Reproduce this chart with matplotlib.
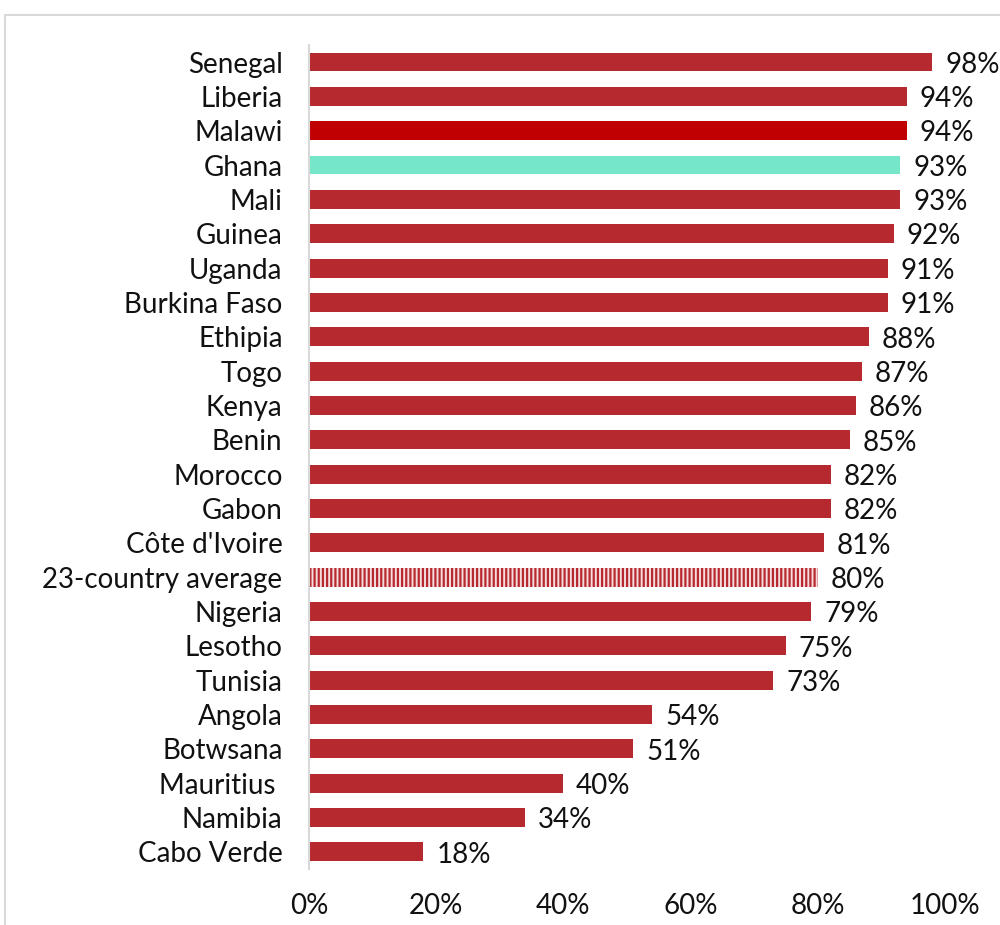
import matplotlib.pyplot as plt
from matplotlib.patches import Rectangle
import numpy as np

countries = ['Senegal', 'Liberia', 'Malawi', 'Ghana', 'Mali', 'Guinea', 'Uganda',
             'Burkina Faso', 'Ethipia', 'Togo', 'Kenya', 'Benin', 'Morocco', 'Gabon',
             "Côte d'Ivoire", '23-country average', 'Nigeria', 'Lesotho', 'Tunisia',
             'Angola', 'Botwsana', 'Mauritius ', 'Namibia', 'Cabo Verde']
values = [98, 94, 94, 93, 93, 92, 91, 91, 88, 87, 86, 85, 82, 82, 81, 80, 79, 75, 73,
          54, 51, 40, 34, 18]
xticks = [0, 20, 40, 60, 80, 100]

plt.rcParams['font.family'] = ['Lato', 'DejaVu Sans']
plt.rcParams['hatch.linewidth'] = 1.6

base = '#B5292F'
colors = []
for c in countries:
    if c == 'Malawi':
        colors.append('#C00000')
    elif c == 'Ghana':
        colors.append('#75E6C8')
    else:
        colors.append(base)

fig = plt.figure(figsize=(10, 9.25), dpi=100)
# light grey frame around the chart area
fig.patches.append(Rectangle((0.005, -0.1), 1.2, 1.084, transform=fig.transFigure,
                             fill=False, edgecolor='#d9d9d9', linewidth=1.5))
ax = fig.add_axes([0.309, 0.0605, 0.636, 0.891])

y = np.arange(len(countries))
for yi, v, col, name in zip(y, values, colors, countries):
    if name == '23-country average':
        ax.barh(yi, v, height=0.55, color='#F6DCDD', edgecolor=base, hatch='||||',
                linewidth=0)
    else:
        ax.barh(yi, v, height=0.55, color=col, linewidth=0)
    ax.text(v + 2, yi + 0.08, f'{v}%', va='center', ha='left', fontsize=20,
            color='#111111')

ax.set_ylim(len(countries) - 0.5, -0.5)
ax.set_xlim(0, 100)
ax.set_yticks(y)
ax.set_yticklabels(countries, fontsize=20, color='#111111')
ax.set_xticks(xticks)
ax.set_xticklabels([f'{t}%' for t in xticks], fontsize=20, color='#111111')
ax.tick_params(axis='y', length=0, pad=19)
ax.tick_params(axis='x', length=0, pad=17)
for s in ['top', 'right', 'bottom']:
    ax.spines[s].set_visible(False)
ax.spines['left'].set_color('#d9d9d9')
ax.spines['left'].set_linewidth(1.5)

fig.savefig('out.png', dpi=100)
